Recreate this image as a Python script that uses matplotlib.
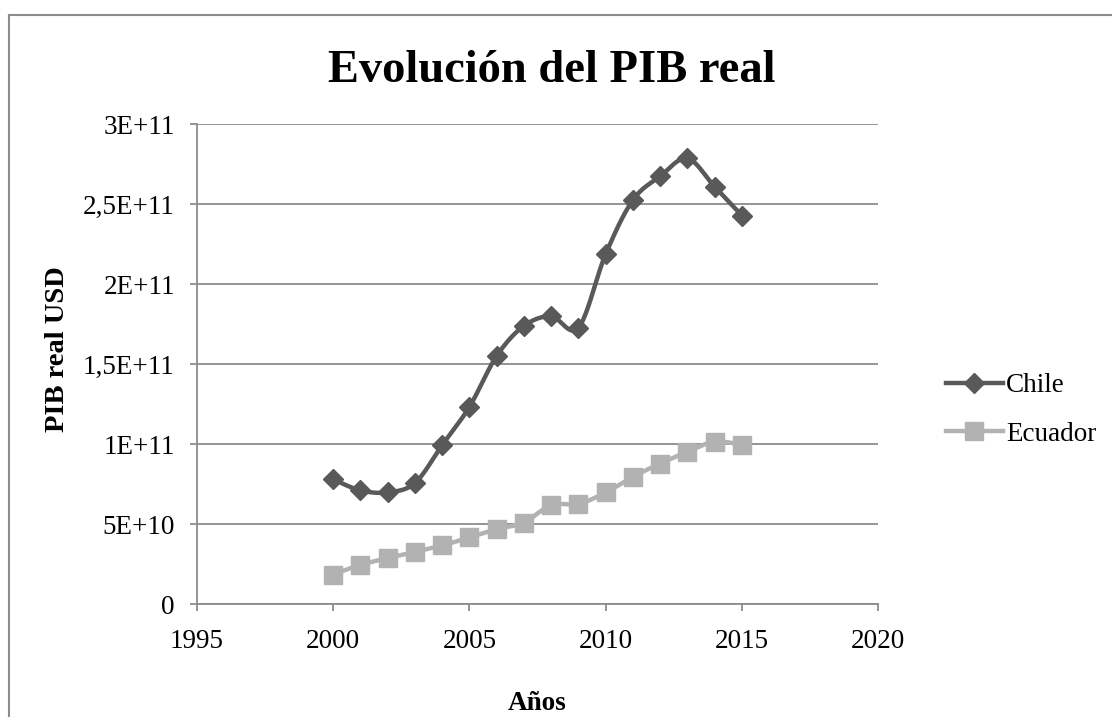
import numpy as np
import matplotlib
matplotlib.use('Agg')
import matplotlib.pyplot as plt
from matplotlib.lines import Line2D

# data (USD)
years = [2000, 2001, 2002, 2003, 2004, 2005, 2006, 2007,
         2008, 2009, 2010, 2011, 2012, 2013, 2014, 2015]
chile = [7.79e10, 7.10e10, 6.98e10, 7.56e10, 9.93e10, 1.232e11, 1.550e11, 1.738e11,
         1.798e11, 1.726e11, 2.186e11, 2.524e11, 2.673e11, 2.785e11, 2.609e11, 2.428e11]
ecuador = [1.84e10, 2.45e10, 2.86e10, 3.26e10, 3.66e10, 4.16e10, 4.68e10, 5.09e10,
           6.18e10, 6.25e10, 6.97e10, 7.94e10, 8.78e10, 9.50e10, 1.0150e11, 9.94e10]
yticks = [0, 5e10, 1e11, 1.5e11, 2e11, 2.5e11, 3e11]
ytick_labels = ['0', '5E+10', '1E+11', '1,5E+11', '2E+11', '2,5E+11', '3E+11']
xticks = [1995, 2000, 2005, 2010, 2015, 2020]

c_chile = '#595959'
c_ecu = '#b2b2b2'
grid_c = '#8c8c8c'

plt.rcParams['font.family'] = 'Liberation Serif'


def smooth(x, y, n=24):
    # Excel-like smoothed line (Catmull-Rom as cubic Bezier)
    x = np.asarray(x, float)
    y = np.asarray(y, float)
    px = np.concatenate([[x[0]], x, [x[-1]]])
    py = np.concatenate([[y[0]], y, [y[-1]]])
    t = np.linspace(0, 1, n)[:, None]
    xs, ys = [], []
    for i in range(1, len(px) - 2):
        p0 = np.array([px[i], py[i]])
        p3 = np.array([px[i + 1], py[i + 1]])
        p1 = p0 + (p3 - np.array([px[i - 1], py[i - 1]])) / 6
        p2 = p3 - (np.array([px[i + 2], py[i + 2]]) - p0) / 6
        b = (1 - t) ** 3 * p0 + 3 * (1 - t) ** 2 * t * p1 + 3 * (1 - t) * t ** 2 * p2 + t ** 3 * p3
        xs.append(b[:, 0])
        ys.append(b[:, 1])
    return np.concatenate(xs), np.concatenate(ys)


fig = plt.figure(figsize=(11.12, 7.17), dpi=100)
ax = fig.add_axes([197 / 1112, 1 - 604 / 717, (878 - 197) / 1112, 480 / 717])

sx, sy = smooth(years, chile)
ax.plot(sx, sy, color=c_chile, lw=3.2, solid_capstyle='round', zorder=3)
ax.plot(years, chile, ls='none', marker='D', ms=10, color=c_chile, mec=c_chile, zorder=4)

sx, sy = smooth(years, ecuador)
ax.plot(sx, sy, color=c_ecu, lw=3.2, solid_capstyle='round', zorder=3)
ax.plot(years, ecuador, ls='none', marker='s', ms=13, color=c_ecu, mec=c_ecu, zorder=4)

ax.set_xlim(1995, 2020)
ax.set_ylim(0, 3e11)
ax.set_xticks(xticks)
ax.set_xticklabels([str(v) for v in xticks])
ax.set_yticks(yticks)
ax.set_yticklabels(ytick_labels)
ax.yaxis.grid(True, color=grid_c, lw=1.3)
ax.set_axisbelow(True)
for s in ['top', 'right']:
    ax.spines[s].set_visible(False)
for s in ['left', 'bottom']:
    ax.spines[s].set_color(grid_c)
    ax.spines[s].set_linewidth(1.3)
ax.tick_params(axis='both', direction='out', length=5, width=1.3, color=grid_c, labelsize=19.5)
ax.tick_params(axis='y', pad=11)
ax.tick_params(axis='x', pad=13)
ax.set_xlabel('Años', fontsize=19.5, fontweight='bold', labelpad=27)

fig.text(58 / 1112, 1 - 349 / 717, 'PIB real USD', rotation=90, fontsize=20.5,
         fontweight='bold', ha='center', va='center')
fig.text(552 / 1112, 1 - 82 / 717, 'Evolución del PIB real', fontsize=33.5,
         fontweight='bold', ha='center', va='baseline')

handles = [Line2D([], [], color=c_chile, lw=3.2, marker='D', ms=10),
           Line2D([], [], color=c_ecu, lw=3.2, marker='s', ms=13)]
fig.legend(handles, ['Chile', 'Ecuador'], loc='center left',
           bbox_to_anchor=(946 / 1112, 1 - 410 / 717), frameon=False, fontsize=19.5,
           borderpad=0, borderaxespad=0, handlelength=2.1, handletextpad=0.12,
           labelspacing=0.85)

# outer chart border (only top and left visible in the crop)
fig.add_artist(Line2D([9 / 1112, 1], [1 - 15 / 717, 1 - 15 / 717], color=grid_c, lw=1.5,
                      transform=fig.transFigure))
fig.add_artist(Line2D([9 / 1112, 9 / 1112], [0, 1 - 15 / 717], color=grid_c, lw=1.5,
                      transform=fig.transFigure))

fig.savefig('out.png', dpi=100)
